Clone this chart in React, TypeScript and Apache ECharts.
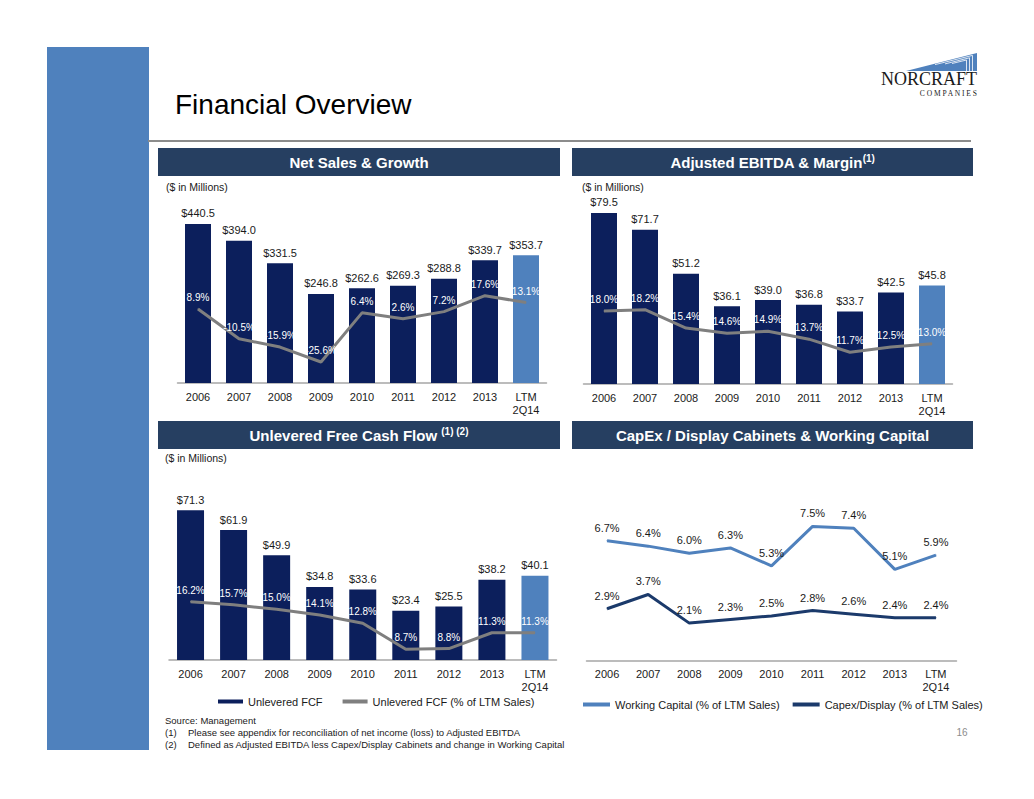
import React, { useEffect, useRef } from 'react';
import * as echarts from 'echarts';

const categories = ['2006', '2007', '2008', '2009', '2010', '2011', '2012', '2013', 'LTM\n2Q14'];
const netSales = [440.5, 394.0, 331.5, 246.8, 262.6, 269.3, 288.8, 339.7, 353.7];
const salesGrowth = [8.9, -10.5, -15.9, -25.6, 6.4, 2.6, 7.2, 17.6, 13.1];
const ebitda = [79.5, 71.7, 51.2, 36.1, 39.0, 36.8, 33.7, 42.5, 45.8];
const ebitdaMargin = [18.0, 18.2, 15.4, 14.6, 14.9, 13.7, 11.7, 12.5, 13.0];
const fcf = [71.3, 61.9, 49.9, 34.8, 33.6, 23.4, 25.5, 38.2, 40.1];
const fcfPct = [16.2, 15.7, 15.0, 14.1, 12.8, 8.7, 8.8, 11.3, 11.3];
const workingCapital = [6.7, 6.4, 6.0, 6.3, 5.3, 7.5, 7.4, 5.1, 5.9];
const capexDisplay = [2.9, 3.7, 2.1, 2.3, 2.5, 2.8, 2.6, 2.4, 2.4];

const NAVY = '#0c1f5c';
const LTM = '#4f81bd';
const GRAY = '#7f7f7f';
const HEADER = '#263f61';
const WC = '#4f81bd';
const CAPEX = '#1b3a6b';
const FONT = 'Liberation Sans, Arial, sans-serif';
const SERIF = 'Liberation Serif, DejaVu Serif, serif';
const TXT = '#1a1a1a';

const barData = (arr: number[]) =>
  arr.map((v, i) => (i === arr.length - 1 ? { value: v, itemStyle: { color: LTM } } : v));

const money = (p: any) => '$' + Number(p.value).toFixed(1);
const pct = (p: any) => Number(p.value).toFixed(1) + '%';

const xAxisFor = (gridIndex: number) => ({
  gridIndex,
  type: 'category',
  data: categories,
  axisLine: { lineStyle: { color: '#a6a6a6', width: 1.5 } },
  axisTick: { show: false },
  axisLabel: { color: TXT, fontSize: 11, margin: 7, lineHeight: 13, fontFamily: FONT, interval: 0 },
});

const barSeries = (name: string, data: number[], xi: number, yi: number, bw: number) => ({
  name,
  type: 'bar',
  xAxisIndex: xi,
  yAxisIndex: yi,
  data: barData(data),
  barWidth: bw,
  itemStyle: { color: NAVY },
  label: { show: true, position: 'top', distance: 5, formatter: money, color: TXT, fontSize: 11, fontFamily: FONT },
  z: 2,
});

const pctLine = (name: string, data: number[], xi: number, yi: number) => ({
  name,
  type: 'line',
  xAxisIndex: xi,
  yAxisIndex: yi,
  data,
  symbol: 'circle',
  symbolSize: 1,
  showSymbol: true,
  itemStyle: { color: GRAY },
  lineStyle: { color: GRAY, width: 3 },
  label: { show: true, position: 'top', distance: 6, formatter: pct, color: '#ffffff', fontSize: 10, fontFamily: FONT },
  z: 5,
});

const header = (x: number, y: number, w: number, text: string, rich?: boolean) => [
  { type: 'rect', shape: { x, y, width: w, height: 28 }, style: { fill: HEADER } },
  {
    type: 'text',
    x: x + w / 2,
    y: y + 14,
    style: rich
      ? {
          text,
          align: 'center',
          verticalAlign: 'middle',
          rich: {
            a: { fontSize: 15, fontWeight: 'bold', fontFamily: FONT, fill: '#ffffff' },
            s: { fontSize: 10, fontWeight: 'bold', fontFamily: FONT, fill: '#ffffff', padding: [0, 0, 8, 0] },
          },
        }
      : {
          text,
          align: 'center',
          verticalAlign: 'middle',
          fontSize: 15,
          fontWeight: 'bold',
          fontFamily: FONT,
          fill: '#ffffff',
        },
  },
];

const smallText = (x: number, y: number, text: string, size = 10.5) => ({
  type: 'text',
  x,
  y,
  style: { text, fontSize: size, fontFamily: FONT, fill: TXT, verticalAlign: 'middle', align: 'left' },
});

export default function App() {
  const ref = useRef<HTMLDivElement>(null);
  useEffect(() => {
    const chart = echarts.init(ref.current!, null, { renderer: 'svg' });
    const option: any = {
      animation: false,
      backgroundColor: '#ffffff',
      textStyle: { fontFamily: FONT },
      grid: [
        { left: 177.5, top: 202.5, width: 369, height: 180.5, outerBoundsMode: 'none' },
        { left: 583.5, top: 190.4, width: 369, height: 193.6, outerBoundsMode: 'none' },
        { left: 169, top: 492, width: 387.5, height: 168, outerBoundsMode: 'none' },
        { left: 586.5, top: 481.7, width: 370, height: 179, outerBoundsMode: 'none' },
      ],
      xAxis: [xAxisFor(0), xAxisFor(1), xAxisFor(2), xAxisFor(3)],
      yAxis: [
        { gridIndex: 0, type: 'value', min: 0, max: 500, show: false },
        { gridIndex: 0, type: 'value', min: -39.3, max: 78.3, show: false },
        { gridIndex: 1, type: 'value', min: 0, max: 90, show: false },
        { gridIndex: 1, type: 'value', min: 6.86, max: 36.4, show: false },
        { gridIndex: 2, type: 'value', min: 0, max: 80, show: false },
        { gridIndex: 2, type: 'value', min: 7.0, max: 33.5, show: false },
        { gridIndex: 3, type: 'value', min: 0, max: 10, show: false },
      ],
      legend: [
        {
          data: [
            { name: 'Unlevered FCF', icon: 'rect', itemStyle: { color: NAVY } },
            { name: 'Unlevered FCF (% of LTM Sales)', icon: 'rect', itemStyle: { color: GRAY } },
          ],
          left: 218,
          top: 696,
          itemWidth: 25,
          itemHeight: 4,
          itemGap: 20,
          padding: 0,
          selectedMode: false,
          textStyle: { fontSize: 11, color: TXT, fontFamily: FONT },
        },
        {
          data: [
            { name: 'Working Capital (% of LTM Sales)', icon: 'rect', itemStyle: { color: WC } },
            { name: 'Capex/Display (% of LTM Sales)', icon: 'rect', itemStyle: { color: CAPEX } },
          ],
          left: 583,
          top: 699,
          itemWidth: 27,
          itemHeight: 4,
          itemGap: 13,
          padding: 0,
          selectedMode: false,
          textStyle: { fontSize: 11, color: TXT, fontFamily: FONT },
        },
      ],
      series: [
        barSeries('Net Sales', netSales, 0, 0, 26),
        pctLine('Growth', salesGrowth, 0, 1),
        barSeries('Adjusted EBITDA', ebitda, 1, 2, 26),
        pctLine('Margin', ebitdaMargin, 1, 3),
        barSeries('Unlevered FCF', fcf, 2, 4, 27),
        pctLine('Unlevered FCF (% of LTM Sales)', fcfPct, 2, 5),
        {
          name: 'Working Capital (% of LTM Sales)',
          type: 'line',
          xAxisIndex: 3,
          yAxisIndex: 6,
          data: workingCapital,
          symbol: 'circle',
          symbolSize: 1,
          itemStyle: { color: WC },
          lineStyle: { color: WC, width: 3 },
          label: { show: true, position: 'top', distance: 7, formatter: pct, color: TXT, fontSize: 11, fontFamily: FONT },
        },
        {
          name: 'Capex/Display (% of LTM Sales)',
          type: 'line',
          xAxisIndex: 3,
          yAxisIndex: 6,
          data: capexDisplay,
          symbol: 'circle',
          symbolSize: 1,
          itemStyle: { color: CAPEX },
          lineStyle: { color: CAPEX, width: 3 },
          label: { show: true, position: 'top', distance: 7, formatter: pct, color: TXT, fontSize: 11, fontFamily: FONT },
        },
      ],
      graphic: [
        { type: 'rect', shape: { x: 47, y: 47, width: 102, height: 703 }, style: { fill: '#4f81bd' } },
        {
          type: 'text',
          x: 175,
          y: 104,
          style: { text: 'Financial Overview', fontSize: 28, fontFamily: FONT, fill: '#000000', verticalAlign: 'middle' },
        },
        { type: 'line', shape: { x1: 148, y1: 141, x2: 971, y2: 141 }, style: { stroke: '#8c8c8c', lineWidth: 2 } },
        // logo
        { type: 'polygon', shape: { points: [[906, 71], [977, 53], [977, 71]] }, style: { fill: '#4f81bd' } },
        { type: 'polyline', shape: { points: [[935, 64.6], [972.5, 55.4], [972.5, 71]] }, style: { stroke: '#ffffff', lineWidth: 0.8, fill: 'none' } },
        { type: 'polyline', shape: { points: [[945, 63.9], [969.5, 57.8], [969.5, 71]] }, style: { stroke: '#ffffff', lineWidth: 0.8, fill: 'none' } },
        { type: 'polyline', shape: { points: [[952, 63.5], [966.5, 60], [966.5, 71]] }, style: { stroke: '#ffffff', lineWidth: 0.8, fill: 'none' } },
        {
          type: 'text',
          x: 977,
          y: 79,
          style: { text: 'NORCRAFT', fontSize: 18, fontFamily: SERIF, fill: '#1a1a1a', align: 'right', verticalAlign: 'middle' },
        },
        {
          type: 'text',
          x: 977,
          y: 93.5,
          style: { text: 'C O M P A N I E S', fontSize: 7.5, fontFamily: SERIF, fill: '#1a1a1a', align: 'right', verticalAlign: 'middle' },
        },
        ...header(158, 148, 402, 'Net Sales & Growth'),
        ...header(572, 148, 401, '{a|Adjusted EBITDA & Margin}{s|(1)}', true),
        ...header(158, 421, 402, '{a|Unlevered Free Cash Flow }{s|(1) (2)}', true),
        ...header(572, 421, 401, 'CapEx / Display Cabinets & Working Capital'),
        smallText(166, 187, '($ in Millions)'),
        smallText(582, 187, '($ in Millions)'),
        smallText(165, 458, '($ in Millions)'),
        smallText(165, 720, 'Source: Management', 9.5),
        smallText(165, 732, '(1)', 9.5),
        smallText(188, 732, 'Please see appendix for reconciliation of net income (loss) to Adjusted EBITDA', 9.5),
        smallText(165, 744, '(2)', 9.5),
        smallText(188, 744, 'Defined as Adjusted EBITDA less Capex/Display Cabinets and change in Working Capital', 9.5),
        {
          type: 'text',
          x: 962,
          y: 732,
          style: { text: '16', fontSize: 10, fontFamily: FONT, fill: '#8c8c8c', align: 'center', verticalAlign: 'middle' },
        },
      ],
    };
    chart.setOption(option);
    return () => chart.dispose();
  }, []);
  return <div ref={ref} style={{ position: 'absolute', left: 0, top: 0, width: 1034, height: 799 }} />;
}
